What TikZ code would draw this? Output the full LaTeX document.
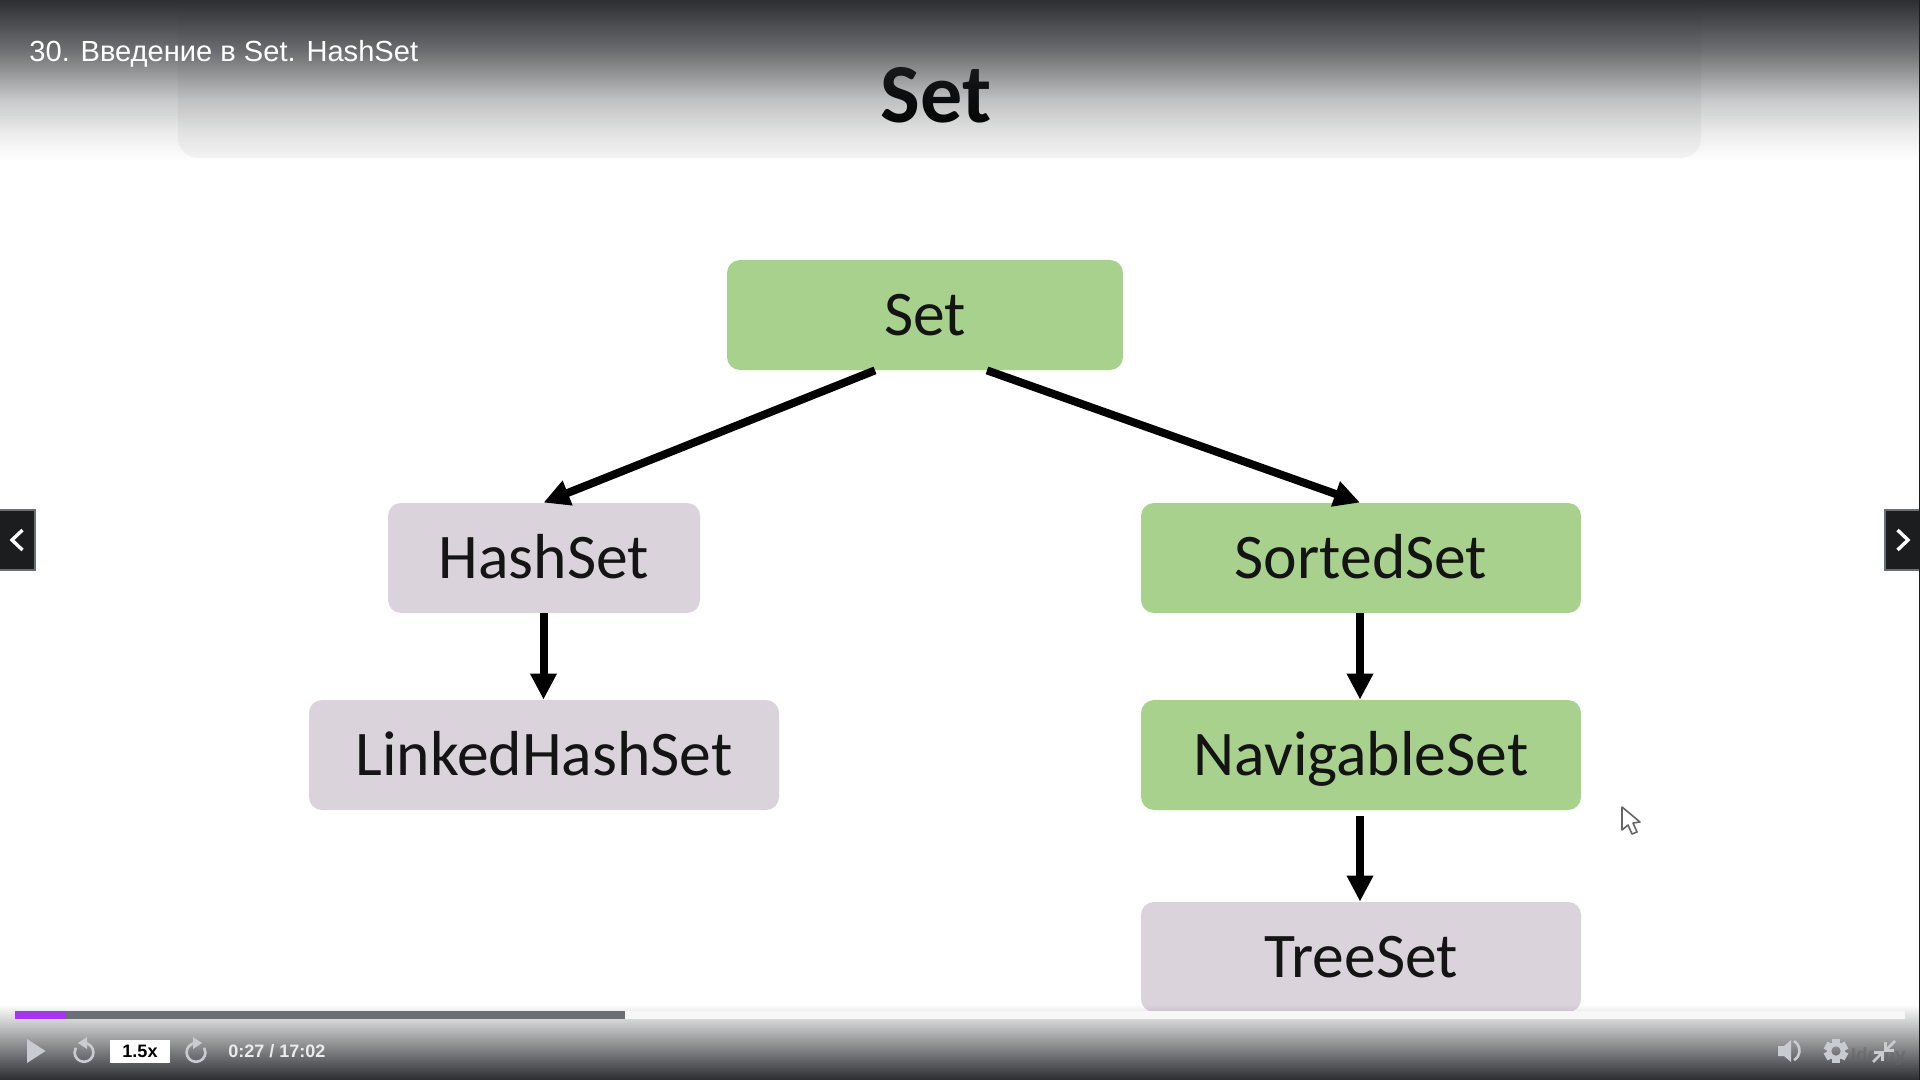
\documentclass[tikz,border=0pt]{standalone}
\usepackage{fontspec}
\setmainfont{Carlito}
\newfontfamily\ui{Liberation Sans}
\usetikzlibrary{arrows.meta}
\definecolor{boxgreen}{HTML}{A9D18E}
\definecolor{boxgrey}{HTML}{DBD3DB}
\definecolor{barcol}{HTML}{2D2F33}
\definecolor{ctrl}{HTML}{C8CCD1}
\definecolor{navbg}{HTML}{1C1D1F}
\definecolor{navedge}{HTML}{6A6F73}
\definecolor{inktext}{HTML}{141414}
\definecolor{purplebar}{HTML}{A435F0}
\tikzset{
  slidebox/.style={rounded corners=6.5pt, inner sep=0pt, minimum height=55pt, text=inktext, text height=20.5pt, text depth=0pt, font=\fontsize{31.8}{32}\selectfont},
  greenbox/.style={slidebox, fill=boxgreen},
  greybox/.style={slidebox, fill=boxgrey},
  link/.style={line width=4pt, -{Triangle[length=13pt,width=12.5pt]}, black},
  navbtn/.style={fill=navbg, draw=navedge, line width=0.7pt},
  chev/.style={draw=white, line width=1.7pt, line join=miter},
  ctrlline/.style={draw=ctrl, line width=1.3pt},
}
\begin{document}
\begin{tikzpicture}[x=0.5pt,y=-0.5pt]
\useasboundingbox (0,0) rectangle (1920,1080);
\fill[white] (0,0) rectangle (1920,1080);
% title band
\fill[black!4, rounded corners=10pt] (178,-30) rectangle (1701,158);
\node[font=\fontsize{42}{42}\selectfont\bfseries, text=black, inner sep=0pt] (title) at (936,95) {Set};
% diagram
\node[greenbox, minimum width=198pt] (s) at (925,315) {Set};
\node[greybox, minimum width=156pt] (h) at (544,558) {HashSet};
\node[greenbox, minimum width=220pt] (ss) at (1361,558) {SortedSet};
\node[greybox, minimum width=235pt] (lh) at (544,755) {LinkedHashSet};
\node[greenbox, minimum width=220pt] (ns) at (1361,755) {NavigableSet};
\node[greybox, minimum width=220pt] (ts) at (1361,957) {TreeSet};
\draw[link] ([xshift=-25pt]s.south) -- ([xshift=-0.25pt]h.north);
\draw[link] ([xshift=31pt]s.south) -- ([xshift=-0.5pt]ss.north);
\draw[link] ([xshift=-0.25pt]h.south) -- ([xshift=-0.25pt]lh.north);
\draw[link] ([xshift=-0.5pt]ss.south) -- ([xshift=-0.5pt]ns.north);
\draw[link, shorten <=3pt] ([xshift=-0.5pt]ns.south) -- ([xshift=-0.5pt]ts.north);
% cursor
\draw[draw=black!60, fill=white, line width=0.8pt, line join=round]
  (1622,807) -- (1622,830) -- (1628,825) -- (1632,834) -- (1637,832) -- (1633,823) -- (1640,822) -- cycle;
% gradients, one pixel row at a time
\foreach \r in {0,...,159}{
  \pgfmathsetmacro{\op}{\r<50 ? 1-0.31*\r/50 : (\r<100 ? 0.69-0.43*(\r-50)/50 : (\r<133 ? 0.26-0.17*(\r-100)/33 : 0.09*(160-\r)/27))}
  \fill[barcol, fill opacity=\op] (0,\r) rectangle (1920,\r+1);
}
\foreach \r in {0,...,74}{
  \pgfmathsetmacro{\op}{(\r+0.5)/75}
  \fill[barcol, fill opacity=\op] (0,1005+\r) rectangle (1920,1006+\r);
}
\node[font=\ui\fontsize{14.55}{14.55}\selectfont, text=white, anchor=west, inner sep=0pt] (head) at (29,54) {30. Введение в Set. HashSet};
% side buttons
\fill[navbtn] (-2,510) rectangle (35,570);
\draw[chev] (22.5,530) -- (12,540) -- (22.5,550);
\fill[navbtn] (1885,510) rectangle (1922,570);
\draw[chev] (1897.5,530) -- (1908,540) -- (1897.5,550);
% right edge
\fill[navbg] (1918.5,0) rectangle (1920,1080);
% progress
\fill[black!3] (15,1011) rectangle (1905,1019);
\fill[navedge] (15,1011) rectangle (625,1019);
\fill[purplebar] (15,1011) rectangle (66,1019);
% controls
\fill[ctrl] (27,1039) -- (45.5,1051) -- (27,1063) -- cycle;
\draw[ctrlline] (84,1043) arc[start angle=90,end angle=-210,radius=4.7pt];
\fill[ctrl] (78,1043) -- (87,1037) -- (87,1049) -- cycle;
\node[fill=white, minimum width=30pt, minimum height=11.5pt, inner sep=0pt, font=\ui\bfseries\fontsize{9}{9}\selectfont, text=black] (speed) at (140,1051.5) {1.5x};
\draw[ctrlline] (196,1043) arc[start angle=90,end angle=390,radius=4.7pt];
\fill[ctrl] (202,1043) -- (193,1037) -- (193,1049) -- cycle;
\node[font=\ui\bfseries\fontsize{9}{9}\selectfont, text=white!92!black, anchor=west, inner sep=0pt] (time) at (228,1051) {0:27 / 17:02};
% watermark
\node[font=\ui\bfseries\fontsize{9.5}{9.5}\selectfont, text=black!60, opacity=0.55, inner sep=0pt] (mark) at (1874,1057) {Udemy};
% volume
\fill[ctrl] (1778,1046) -- (1784,1046) -- (1791,1040) -- (1791,1062) -- (1784,1056) -- (1778,1056) -- cycle;
\draw[ctrlline] (1794,1041) arc[start angle=60,end angle=-60,radius=5.5pt];
% gear
\fill[ctrl, even odd rule] (1836,1051) circle[radius=4.6pt] (1836,1051) circle[radius=2.4pt];
\foreach \a in {0,60,...,300}{
  \begin{scope}[shift={(1836,1051)}, rotate=\a]
    \fill[ctrl] (-2pt,3.7pt) rectangle (2pt,6pt);
  \end{scope}
}
% compress
\draw[ctrlline] (1895,1041) -- (1885.5,1050.5);
\draw[ctrlline] (1885.5,1042) -- (1885.5,1050.5) -- (1894,1050.5);
\draw[ctrlline] (1873,1062) -- (1882.5,1052.5);
\draw[ctrlline] (1874,1052.5) -- (1882.5,1052.5) -- (1882.5,1061);
\end{tikzpicture}
\end{document}
